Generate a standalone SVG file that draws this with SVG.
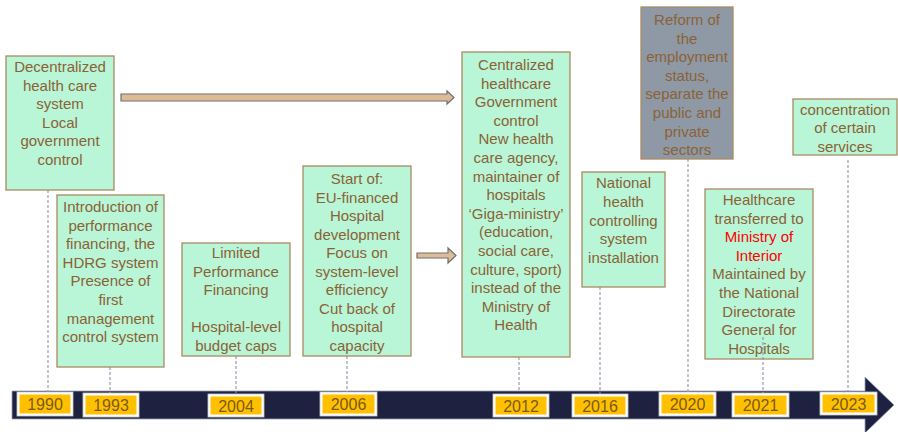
<svg xmlns="http://www.w3.org/2000/svg" width="898" height="432" viewBox="0 0 898 432">
  <style>
    .box { fill: #b9f6d7; stroke: #a88a62; stroke-width: 1.3; }
    .gray { fill: #8f99a5; stroke: #a88a62; stroke-width: 1.3; }
    .t { font-family: "Liberation Sans", Arial, sans-serif; font-size: 15px; fill: #8a6236; text-anchor: middle; }
    .red { fill: #ff0000; }
    .tick { stroke: #8a94a6; stroke-width: 1.1; stroke-dasharray: 3 2; fill: none; }
    .arrow { fill: #dcbc97; stroke: #707070; stroke-width: 1.2; }
    .yframe { fill: #ffffff; stroke: #c8c8c8; stroke-width: 0.8; }
    .ygold { fill: #ffc000; }
    .yt { font-family: "Liberation Sans", Arial, sans-serif; font-size: 16px; fill: #7a5a10; text-anchor: middle; }
  </style>

  <!-- timeline bar -->
  <g id="timeline">
    <polygon points="12,391 865,391 865,377 894,405 865,433 865,419 12,419" fill="#1e2240" stroke="#9aa0b0" stroke-width="0.8"/>
  </g>

  <!-- connectors: dashed ticks and block arrows -->
  <g id="connectors">
    <line class="tick" x1="48" y1="190" x2="48" y2="392"/>
    <line class="tick" x1="110" y1="367" x2="110" y2="394"/>
    <line class="tick" x1="236" y1="356" x2="236" y2="393"/>
    <line class="tick" x1="347" y1="356" x2="347" y2="392"/>
    <line class="tick" x1="519" y1="357" x2="519" y2="392"/>
    <line class="tick" x1="600" y1="287" x2="600" y2="394"/>
    <line class="tick" x1="688" y1="159" x2="688" y2="392"/>
    <line class="tick" x1="848" y1="160" x2="848" y2="391"/>
    <polygon class="arrow" points="121,94 447,94 447,91 454,97.5 447,104 447,101 121,101"/>
    <polygon class="arrow" points="417,253 448,253 448,248 456,255.5 448,263 448,258 417,258"/>
  </g>

  <g id="n1990">
    <rect class="box" x="6" y="56" width="108" height="134"/>
    <text class="t" x="60" y="72">Decentralized</text>
    <text class="t" x="60" y="90.6">health care</text>
    <text class="t" x="60" y="109.2">system</text>
    <text class="t" x="60" y="127.8">Local</text>
    <text class="t" x="60" y="146.4">government</text>
    <text class="t" x="60" y="165">control</text>
  </g>

  <g id="n1993">
    <rect class="box" x="57" y="195" width="107" height="172"/>
    <text class="t" x="110.5" y="212">Introduction of</text>
    <text class="t" x="110.5" y="230.6">performance</text>
    <text class="t" x="110.5" y="249.2">financing, the</text>
    <text class="t" x="110.5" y="267.8">HDRG system</text>
    <text class="t" x="110.5" y="286.4">Presence of</text>
    <text class="t" x="110.5" y="305">first</text>
    <text class="t" x="110.5" y="323.6">management</text>
    <text class="t" x="110.5" y="342.2">control system</text>
  </g>

  <g id="n2004">
    <rect class="box" x="182" y="243" width="108" height="113"/>
    <text class="t" x="236" y="258">Limited</text>
    <text class="t" x="236" y="276.6">Performance</text>
    <text class="t" x="236" y="295.2">Financing</text>
    <text class="t" x="236" y="332.4">Hospital-level</text>
    <text class="t" x="236" y="351">budget caps</text>
  </g>

  <g id="n2006">
    <rect class="box" x="303" y="166" width="108" height="190"/>
    <text class="t" x="357" y="184">Start of:</text>
    <text class="t" x="357" y="202.5">EU-financed</text>
    <text class="t" x="357" y="221">Hospital</text>
    <text class="t" x="357" y="239.5">development</text>
    <text class="t" x="357" y="258">Focus on</text>
    <text class="t" x="357" y="276.5">system-level</text>
    <text class="t" x="357" y="295">efficiency</text>
    <text class="t" x="357" y="313.5">Cut back of</text>
    <text class="t" x="357" y="332">hospital</text>
    <text class="t" x="357" y="350.5">capacity</text>
  </g>

  <g id="n2012">
    <rect class="box" x="462" y="52" width="108" height="305"/>
    <text class="t" x="516" y="70">Centralized</text>
    <text class="t" x="516" y="88.6">healthcare</text>
    <text class="t" x="516" y="107.2">Government</text>
    <text class="t" x="516" y="125.8">control</text>
    <text class="t" x="516" y="144.4">New health</text>
    <text class="t" x="516" y="163">care agency,</text>
    <text class="t" x="516" y="181.6">maintainer of</text>
    <text class="t" x="516" y="200.2">hospitals</text>
    <text class="t" x="516" y="218.8">‘Giga-ministry’</text>
    <text class="t" x="516" y="237.4">(education,</text>
    <text class="t" x="516" y="256">social care,</text>
    <text class="t" x="516" y="274.6">culture, sport)</text>
    <text class="t" x="516" y="293.2">instead of the</text>
    <text class="t" x="516" y="311.8">Ministry of</text>
    <text class="t" x="516" y="330.4">Health</text>
  </g>

  <g id="n2016">
    <rect class="box" x="582" y="172" width="83" height="115"/>
    <text class="t" x="623.5" y="188.3">National</text>
    <text class="t" x="623.5" y="206.9">health</text>
    <text class="t" x="623.5" y="225.5">controlling</text>
    <text class="t" x="623.5" y="244.1">system</text>
    <text class="t" x="623.5" y="262.7">installation</text>
  </g>

  <g id="n2020">
    <rect class="gray" x="641" y="7" width="92" height="152"/>
    <text class="t" x="687" y="25">Reform of</text>
    <text class="t" x="687" y="43.6">the</text>
    <text class="t" x="687" y="62.2">employment</text>
    <text class="t" x="687" y="80.8">status,</text>
    <text class="t" x="687" y="99.4">separate the</text>
    <text class="t" x="687" y="118">public and</text>
    <text class="t" x="687" y="136.6">private</text>
    <text class="t" x="687" y="155.2">sectors</text>
  </g>

  <g id="n2021">
    <rect class="box" x="705" y="189" width="108" height="170"/>
    <text class="t" x="759" y="205">Healthcare</text>
    <text class="t" x="759" y="223.6">transferred to</text>
    <text class="t red" x="759" y="242.2">Ministry of</text>
    <text class="t red" x="759" y="260.8">Interior</text>
    <text class="t" x="759" y="279.4">Maintained by</text>
    <text class="t" x="759" y="298">the National</text>
    <text class="t" x="759" y="316.6">Directorate</text>
    <text class="t" x="759" y="335.2">General for</text>
    <text class="t" x="759" y="353.8">Hospitals</text>
    <line class="tick" x1="763" y1="337" x2="763" y2="393"/>
  </g>

  <g id="n2023">
    <rect class="box" x="793" y="99" width="104" height="56"/>
    <text class="t" x="845" y="114.5">concentration</text>
    <text class="t" x="845" y="133">of certain</text>
    <text class="t" x="845" y="151.5">services</text>
  </g>

  <!-- year labels on the bar -->
  <g id="years">
    <rect class="yframe" x="17" y="392" width="56" height="24"/><rect class="ygold" x="19.5" y="394.5" width="51" height="19"/>
    <text class="yt" x="45" y="410">1990</text>
    <rect class="yframe" x="83" y="393" width="56" height="24"/><rect class="ygold" x="85.5" y="395.5" width="51" height="19"/>
    <text class="yt" x="111" y="411">1993</text>
    <rect class="yframe" x="208" y="394" width="56" height="23"/><rect class="ygold" x="210.5" y="396.5" width="51" height="18"/>
    <text class="yt" x="236" y="411.5">2004</text>
    <rect class="yframe" x="320" y="392" width="57" height="24"/><rect class="ygold" x="322.5" y="394.5" width="52" height="19"/>
    <text class="yt" x="348.5" y="410">2006</text>
    <rect class="yframe" x="493" y="394" width="56" height="23"/><rect class="ygold" x="495.5" y="396.5" width="51" height="18"/>
    <text class="yt" x="521" y="411.5">2012</text>
    <rect class="yframe" x="572" y="394" width="56" height="23"/><rect class="ygold" x="574.5" y="396.5" width="51" height="18"/>
    <text class="yt" x="600" y="411.5">2016</text>
    <rect class="yframe" x="659" y="392" width="57" height="24"/><rect class="ygold" x="661.5" y="394.5" width="52" height="19"/>
    <text class="yt" x="687.5" y="410">2020</text>
    <rect class="yframe" x="732" y="393" width="57" height="24"/><rect class="ygold" x="734.5" y="395.5" width="52" height="19"/>
    <text class="yt" x="760.5" y="411">2021</text>
    <rect class="yframe" x="820" y="392" width="57" height="23"/><rect class="ygold" x="822.5" y="394.5" width="52" height="18"/>
    <text class="yt" x="848.5" y="409.5">2023</text>
  </g>
</svg>
